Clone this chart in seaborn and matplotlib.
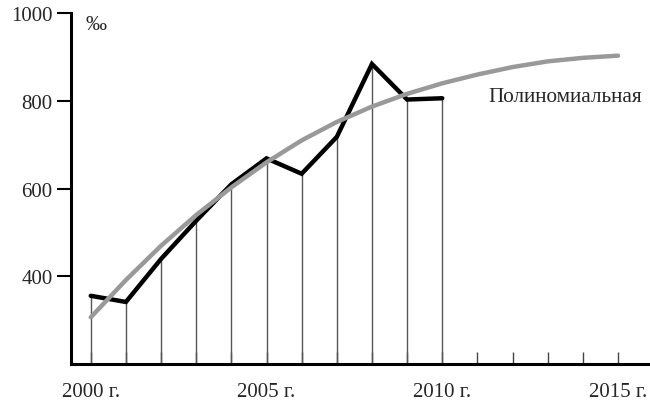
import matplotlib
matplotlib.use("Agg")
import matplotlib.pyplot as plt
import seaborn as sns
import pandas as pd

years = [2000, 2001, 2002, 2003, 2004, 2005, 2006, 2007, 2008, 2009, 2010]
values = [356, 342, 440, 527, 610, 669, 634, 718, 884, 803, 806]

trend_years = list(range(2000, 2016))
trend_values = [307, 392, 470, 540, 603, 660, 710, 752, 787, 816, 840, 860, 877, 890, 898, 903]

tick_years = list(range(2000, 2016))
label_years = [2000, 2005, 2010, 2015]
y_ticks = [400, 600, 800, 1000]

sns.set_style("white")
plt.rcParams['font.family'] = ['Liberation Serif', 'DejaVu Serif']

df = pd.DataFrame({"year": years, "value": values})
dft = pd.DataFrame({"year": trend_years, "value": trend_values})

fig = plt.figure(figsize=(6.5, 4.02), dpi=100)
ax = fig.add_axes([0.1088, 0.0913, 0.8912, 0.8737])

ax.vlines(df["year"], 200, df["value"], colors="#555555", linewidth=1.0, zorder=1)
sns.lineplot(data=df, x="year", y="value", ax=ax, color="black", linewidth=3.2,
             solid_capstyle="round", solid_joinstyle="miter", zorder=3)
sns.lineplot(data=dft, x="year", y="value", ax=ax, color="#999999", linewidth=3.2,
             solid_capstyle="round", zorder=4)

ax.set_xlim(1999.43, 2015.91)
ax.set_ylim(200, 1000)

ax.set_xticks(tick_years)
ax.set_xticklabels([f"{y} г." if y in label_years else "" for y in tick_years])
ax.set_yticks(y_ticks)
ax.set_yticklabels([str(v) for v in y_ticks])

ax.tick_params(axis="x", direction="in", length=9, width=1.0, color="#444444",
               labelsize=15, pad=13, bottom=True)
ax.tick_params(axis="y", direction="out", length=10, width=1.5, color="black",
               labelsize=15, pad=3, left=True)

for s in ["top", "right"]:
    ax.spines[s].set_visible(False)
for s in ["left", "bottom"]:
    ax.spines[s].set_linewidth(2.2)
    ax.spines[s].set_color("black")

ax.set_xlabel("")
ax.set_ylabel("")

ax.text(1999.84, 975, "‰", fontsize=15, va="center", ha="left")
ax.text(2011.3, 811, "Полиномиальная", fontsize=15.3, va="center", ha="left")

fig.savefig("out.png", dpi=100)
